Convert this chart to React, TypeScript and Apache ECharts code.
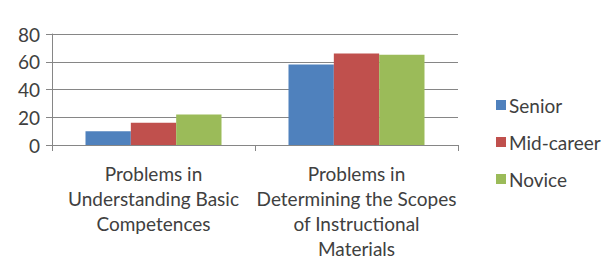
import React, { useEffect, useRef } from "react";
import * as echarts from "echarts";

const categories = [
  "Problems in\nUnderstanding Basic\nCompetences",
  "Problems in\nDetermining the Scopes\nof Instructional\nMaterials",
];
const seriesNames = ["Senior", "Mid-career", "Novice"];
const senior = [10, 58];
const midCareer = [16, 66];
const novice = [22, 65];
const yTicks = { min: 0, max: 80, interval: 20 };
const colors = ["#4F81BD", "#C0504D", "#9BBB59"];

export default function App() {
  const ref = useRef<HTMLDivElement>(null);
  useEffect(() => {
    if (!ref.current) return;
    const chart = echarts.init(ref.current, null, { renderer: "svg" });
    const font = "Lato";
    const textColor = "#404040";
    const axisColor = "#868686";
    const values = [senior, midCareer, novice];
    chart.setOption({
      animation: false,
      color: colors,
      grid: { left: 52, right: 145, top: 34, bottom: 124, containLabel: false },
      legend: {
        orient: "vertical",
        left: 491,
        top: 90,
        itemWidth: 10,
        itemHeight: 10,
        itemGap: 17,
        icon: "rect",
        data: seriesNames,
        textStyle: { fontFamily: font, fontSize: 19, color: textColor, lineHeight: 20, padding: [0, 0, 0, -2] },
      },
      xAxis: {
        type: "category",
        data: categories,
        axisLine: { lineStyle: { color: axisColor } },
        axisTick: { show: true, length: 6, lineStyle: { color: axisColor } },
        axisLabel: {
          interval: 0,
          margin: 16,
          fontFamily: font,
          fontSize: 19,
          lineHeight: 25,
          color: textColor,
          align: "center",
        },
      },
      yAxis: {
        type: "value",
        min: yTicks.min,
        max: yTicks.max,
        interval: yTicks.interval,
        axisLine: { show: true, lineStyle: { color: axisColor } },
        axisTick: { show: true, length: 6, lineStyle: { color: axisColor } },
        splitLine: { show: true, lineStyle: { color: axisColor } },
        axisLabel: { margin: 12, fontFamily: font, fontSize: 19, color: textColor },
      },
      series: seriesNames.map((name, i) => ({
        name,
        type: "bar",
        data: values[i],
        barGap: "0%",
        barCategoryGap: "33%",
        itemStyle: { color: colors[i] },
      })),
    });
    return () => chart.dispose();
  }, []);
  return <div ref={ref} style={{ width: 603, height: 269, position: "absolute", left: 0, top: 0, background: "#fff" }} />;
}
